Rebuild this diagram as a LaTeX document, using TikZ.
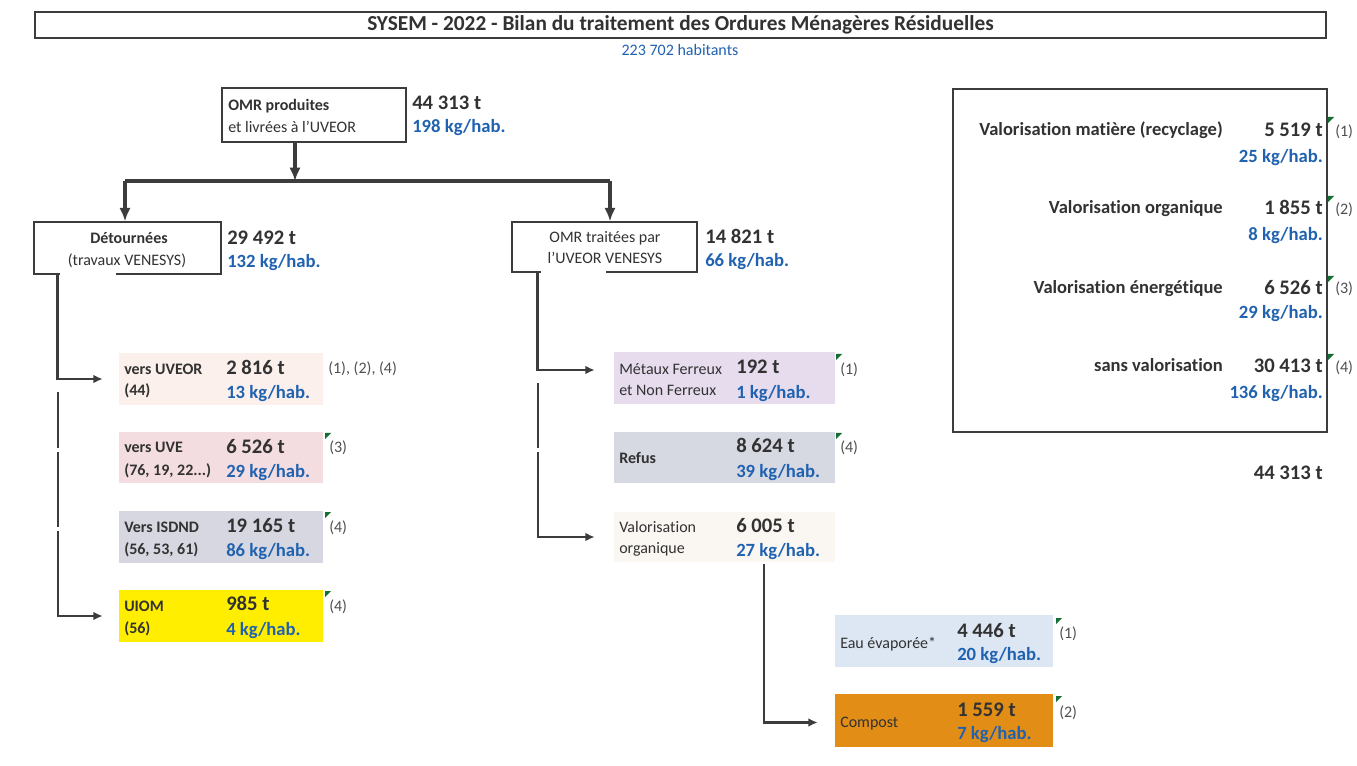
\documentclass[tikz,border=0pt]{standalone}
\usepackage{fontspec}
\setmainfont{Carlito}[Ligatures=NoCommon]
\usetikzlibrary{fit,calc,arrows.meta}

\definecolor{linegrey}{RGB}{60,60,60}
\definecolor{txtgrey}{RGB}{50,50,50}
\definecolor{notegrey}{RGB}{80,80,80}
\definecolor{kgblue}{RGB}{32,98,176}
\definecolor{tickgreen}{RGB}{20,110,50}
\definecolor{uveorfill}{RGB}{251,240,235}
\definecolor{uvefill}{RGB}{244,221,224}
\definecolor{isdndfill}{RGB}{214,215,224}
\definecolor{uiomfill}{RGB}{255,238,0}
\definecolor{metauxfill}{RGB}{230,220,238}
\definecolor{refusfill}{RGB}{214,216,226}
\definecolor{valorgfill}{RGB}{250,246,242}
\definecolor{eaufill}{RGB}{221,231,244}
\definecolor{compostfill}{RGB}{226,142,22}

\begin{document}
\begin{tikzpicture}[x=0.75pt, y=-0.75pt,
  frame/.style={draw=linegrey, line width=1.1pt, inner sep=0pt},
  cell/.style={inner sep=0pt},
  bigconn/.style={draw=linegrey, line width=2.5pt, >={Latex[length=10pt,width=8.5pt]}},
  conn/.style={draw=linegrey, line width=1.9pt, >={Latex[length=7pt,width=6.5pt]}},
  cut/.style={draw=white, line width=3pt},
  lab/.style={anchor=west, inner sep=0pt, text height=7.7pt, text depth=0pt, text=txtgrey, font=\fontsize{12}{14}\selectfont},
  labb/.style={lab, font=\fontsize{12}{14}\selectfont\bfseries},
  val/.style={anchor=west, inner sep=0pt, text height=9.8pt, text depth=0pt, text=txtgrey, font=\fontsize{15.5}{17}\selectfont\bfseries},
  kg/.style={val, text height=8.9pt, text=kgblue, font=\fontsize{14}{16}\selectfont\bfseries},
  note/.style={anchor=west, inner sep=0pt, text height=7.7pt, text depth=0pt, text=notegrey, font=\fontsize{12}{14}\selectfont},
  rlab/.style={anchor=east, inner sep=0pt, text height=8.9pt, text depth=0pt, text=txtgrey, font=\fontsize{13.9}{16}\selectfont\bfseries},
  tick/.style={fill=tickgreen}
]
\fill[white] (0,0) rectangle (1357,766);
\useasboundingbox (0,0) rectangle (1357,766);

% titre
\node (titre) [frame, line width=0.8pt, fit={(35,12) (1326,38)}] {};
\node (titretxt) [inner sep=0pt, text=txtgrey, font=\fontsize{16}{18}\selectfont\bfseries] at (titre.center) {SYSEM - 2022 - Bilan du traitement des Ordures Ménagères Résiduelles};
\node (hab) [inner sep=0pt, text=kgblue, font=\fontsize{12}{14}\selectfont] at (680,50) {223 702 habitants};

% boites du haut
\node (omr) [frame, fit={(222,88) (406,142)}] {};
\node[labb] (omr1) at (228,105) {OMR produites};
\node[lab] (omr2) at (228,127) {et livrées à l'UVEOR};
\node[val] (vomr) at (412,103) {44 313 t};
\node[kg] (komr) at (412,127) {198 kg/hab.};

\node (detour) [frame, fit={(34,222) (221,274)}] {};
\node[labb, anchor=center] (detour1) at (129,238) {Détournées};
\node[lab, anchor=center] (detour2) at (127,260) {(travaux VENESYS)};
\node[val] (vdetour) at (227,238) {29 492 t};
\node[kg] (kdetour) at (227,262) {132 kg/hab.};

\node (traitees) [frame, fit={(512,222) (697,272)}] {};
\node[lab, anchor=center] (traitees1) at (605,237) {OMR traitées par};
\node[lab, anchor=center] (traitees2) at (605,258) {l'UVEOR VENESYS};
\node[val] (vtraitees) at (705,237) {14 821 t};
\node[kg] (ktraitees) at (705,261) {66 kg/hab.};

% colonne de gauche
\node (uveor) [cell, fill=uveorfill, fit={(119,353) (323,405)}] {};
\node[labb] (uveor1) at (124,369) {vers UVEOR};
\node[labb] (uveor2) at (124,390) {(44)};
\node[val] (vuveor) at (226,368) {2 816 t};
\node[kg] (kuveor) at (226,393) {13 kg/hab.};
\node[note] (nuveor) at (328,368) {(1), (2), (4)};

\node (uve) [cell, fill=uvefill, fit={(119,432) (323,483)}] {};
\node[labb] (uve1) at (124,447) {vers UVE};
\node[labb] (uve2) at (124,470) {(76, 19, 22...)};
\node[val] (vuve) at (226,447) {6 526 t};
\node[kg] (kuve) at (226,472) {29 kg/hab.};
\node[note] (nuve) at (329,447) {(3)};
\fill[tick] (325,433) -- ++(6,0) -- ++(-6,6) -- cycle;

\node (isdnd) [cell, fill=isdndfill, fit={(119,511) (323,563)}] {};
\node[labb] (isdnd1) at (124,527) {Vers ISDND};
\node[labb] (isdnd2) at (124,549) {(56, 53, 61)};
\node[val] (visdnd) at (226,526) {19 165 t};
\node[kg] (kisdnd) at (226,551) {86 kg/hab.};
\node[note] (nisdnd) at (329,527) {(4)};
\fill[tick] (325,512) -- ++(6,0) -- ++(-6,6) -- cycle;

\node (uiom) [cell, fill=uiomfill, fit={(119,590) (323,642)}] {};
\node[labb] (uiom1) at (124,606) {UIOM};
\node[labb] (uiom2) at (124,628) {(56)};
\node[val] (vuiom) at (226,604) {985 t};
\node[kg] (kuiom) at (226,630) {4 kg/hab.};
\node[note] (nuiom) at (329,606) {(4)};
\fill[tick] (325,591) -- ++(6,0) -- ++(-6,6) -- cycle;

% colonne du milieu
\node (metaux) [cell, fill=metauxfill, fit={(614,352) (835,404)}] {};
\node[lab] (metaux1) at (619,369) {Métaux Ferreux};
\node[lab] (metaux2) at (619,390) {et Non Ferreux};
\node[val] (vmetaux) at (736,367) {192 t};
\node[kg] (kmetaux) at (736,393) {1 kg/hab.};
\node[note] (nmetaux) at (840,369) {(1)};
\fill[tick] (836,354) -- ++(6,0) -- ++(-6,6) -- cycle;

\node (refus) [cell, fill=refusfill, fit={(614,432) (835,483)}] {};
\node[labb] (refus1) at (619,458) {Refus};
\node[val] (vrefus) at (736,446) {8 624 t};
\node[kg] (krefus) at (736,472) {39 kg/hab.};
\node[note] (nrefus) at (840,447) {(4)};
\fill[tick] (836,433) -- ++(6,0) -- ++(-6,6) -- cycle;

\node (valorg) [cell, fill=valorgfill, fit={(614,512) (835,562)}] {};
\node[lab] (valorg1) at (619,527) {Valorisation};
\node[lab] (valorg2) at (619,548) {organique};
\node[val] (vvalorg) at (736,526) {6 005 t};
\node[kg] (kvalorg) at (736,551) {27 kg/hab.};

% en bas
\node (eau) [cell, fill=eaufill, fit={(835,615) (1053,667)}] {};
\node[lab] (eau1) at (840,643) {Eau évaporée*};
\node[val] (veau) at (957,631) {4 446 t};
\node[kg] (keau) at (957,655) {20 kg/hab.};
\node[note] (neau) at (1059,633) {(1)};
\fill[tick] (1056,618) -- ++(6,0) -- ++(-6,6) -- cycle;

\node (compost) [cell, fill=compostfill, fit={(835,694) (1053,747)}] {};
\node[lab] (compost1) at (840,722) {Compost};
\node[val] (vcompost) at (957,710) {1 559 t};
\node[kg] (kcompost) at (957,734) {7 kg/hab.};
\node[note] (ncompost) at (1059,712) {(2)};
\fill[tick] (1056,696) -- ++(6,0) -- ++(-6,6) -- cycle;

% bilan
\node (bilan) [frame, fit={(953,89) (1327,432)}] {};
\node[rlab] (b1) at (1223,130) {Valorisation matière (recyclage)};
\node[val, anchor=east] (vb1) at (1323,130) {5 519 t};
\node[kg, anchor=east] (kb1) at (1323,157) {25 kg/hab.};
\node[note] (nb1) at (1335,131) {(1)};
\fill[tick] (1328,117) -- ++(6,0) -- ++(-6,6) -- cycle;
\node[rlab] (b2) at (1223,208) {Valorisation organique};
\node[val, anchor=east] (vb2) at (1323,208) {1 855 t};
\node[kg, anchor=east] (kb2) at (1323,235) {8 kg/hab.};
\node[note] (nb2) at (1335,209) {(2)};
\fill[tick] (1328,196) -- ++(6,0) -- ++(-6,6) -- cycle;
\node[rlab] (b3) at (1223,288) {Valorisation énergétique};
\node[val, anchor=east] (vb3) at (1323,288) {6 526 t};
\node[kg, anchor=east] (kb3) at (1323,313) {29 kg/hab.};
\node[note] (nb3) at (1335,288) {(3)};
\fill[tick] (1328,276) -- ++(6,0) -- ++(-6,6) -- cycle;
\node[rlab] (b4) at (1223,366) {sans valorisation};
\node[val, anchor=east] (vb4) at (1323,366) {30 413 t};
\node[kg, anchor=east] (kb4) at (1323,393) {136 kg/hab.};
\node[note] (nb4) at (1335,367) {(4)};
\fill[tick] (1328,354) -- ++(6,0) -- ++(-6,6) -- cycle;
\node[val, anchor=east] (total) at (1323,473) {44 313 t};

% fleches
\coordinate (split) at (295,181);
\coordinate (sl) at (125,181);
\coordinate (sr) at (610,181);
\draw[bigconn,->] (omr.south -| split) -- (split);
\draw[bigconn] (sl) -- (sr);
\draw[bigconn,->] (sl) -- (sl |- detour.north);
\draw[bigconn,->] (sr) -- (sr |- traitees.north);

\draw[cut, line width=2pt] (60,274) -- (116,274);
\draw[cut, line width=2pt] (541,272) -- (606,272);

\coordinate (dl) at ($(detour.south west)+(24,0)$);
\coordinate (d2) at (58,392);
\draw[conn,->] (dl) |- ($(uveor.west)+(-16,0)$);
\draw[conn,->] (d2) |- ($(uiom.west)+(-16,0)$);
\draw[cut] (58,448) -- (58,452);
\draw[cut] (58,527) -- (58,531);

\coordinate (ml) at ($(traitees.south west)+(26,0)$);
\coordinate (m2) at (538,383);
\draw[conn,->] (ml) |- ($(metaux.west)+(-19,-8)$);
\draw[conn,->] (m2) |- ($(valorg.west)+(-19,0)$);
\draw[cut] (538,448) -- (538,452);

\coordinate (vb) at ($(valorg.south)+(39.5,2)$);
\draw[conn,->] (vb) |- ($(compost.west)+(-17,2)$);
\end{tikzpicture}
\end{document}
